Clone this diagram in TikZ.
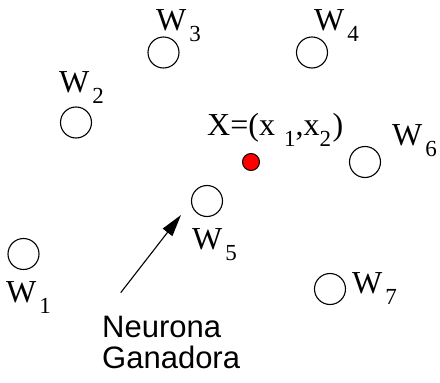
\documentclass[tikz,border=0pt]{standalone}
\usepackage{fontspec}
\setmainfont{Liberation Serif}
\newfontfamily\labsans{Liberation Sans}
\usetikzlibrary{arrows.meta}
\newcommand\subdig[1]{\raisebox{-11.5pt}{\fontsize{23}{23}\selectfont #1}}
\newcommand\Wlabel[1]{W\hspace{3pt}\subdig{#1}}
\begin{document}
\begin{tikzpicture}[x=1pt,y=-1pt,
  wnode/.style={circle,draw,line width=1.1pt,minimum size=31pt,inner sep=0pt},
  xnode/.style={circle,draw,fill=red,line width=1pt,minimum size=17pt,inner sep=0pt},
  lab/.style={anchor=base west,inner sep=0pt,font=\fontsize{32}{32}\selectfont},
  sanslab/.style={anchor=base west,inner sep=0pt,font=\labsans\fontsize{31}{31}\selectfont},
  pointer/.style={line width=1.1pt,-{Triangle[length=22pt,width=12pt]}}]
\useasboundingbox (0,0) rectangle (440,383);
% weight vectors
\node[wnode] (w1) at (23.5,254) {};
\node[wnode] (w2) at (76,122.5) {};
\node[wnode] (w3) at (163.5,52.5) {};
\node[wnode] (w4) at (312,52.5) {};
\node[wnode] (w5) at (207,201) {};
\node[wnode] (w6) at (365,162) {};
\node[wnode] (w7) at (330,289) {};
% input
\node[xnode] (x) at (251,162) {};
% labels
\node[lab] (l1) at (6,302) {\Wlabel{1}};
\node[lab] (l2) at (59,92) {\Wlabel{2}};
\node[lab] (l3) at (156,30) {\Wlabel{3}};
\node[lab] (l4) at (314,30) {\Wlabel{4}};
\node[lab] (l5) at (192,249) {\Wlabel{5}};
\node[lab] (l6) at (392,145) {\Wlabel{6}};
\node[lab] (l7) at (352,293) {\Wlabel{7}};
\node[lab] (lx) at (207,135) {X=(x\hspace{9pt}\subdig{1},x\subdig{2}\hspace{1.5pt})};
% winner annotation
\node[sanslab] (neu) at (102,337) {Neurona};
\node[sanslab] (gan) at (102,368) {Ganadora};
\coordinate (astart) at (120.7,292.7);
\coordinate (atip) at (181,215);
\draw[pointer] (astart) -- (atip);
\end{tikzpicture}
\end{document}
